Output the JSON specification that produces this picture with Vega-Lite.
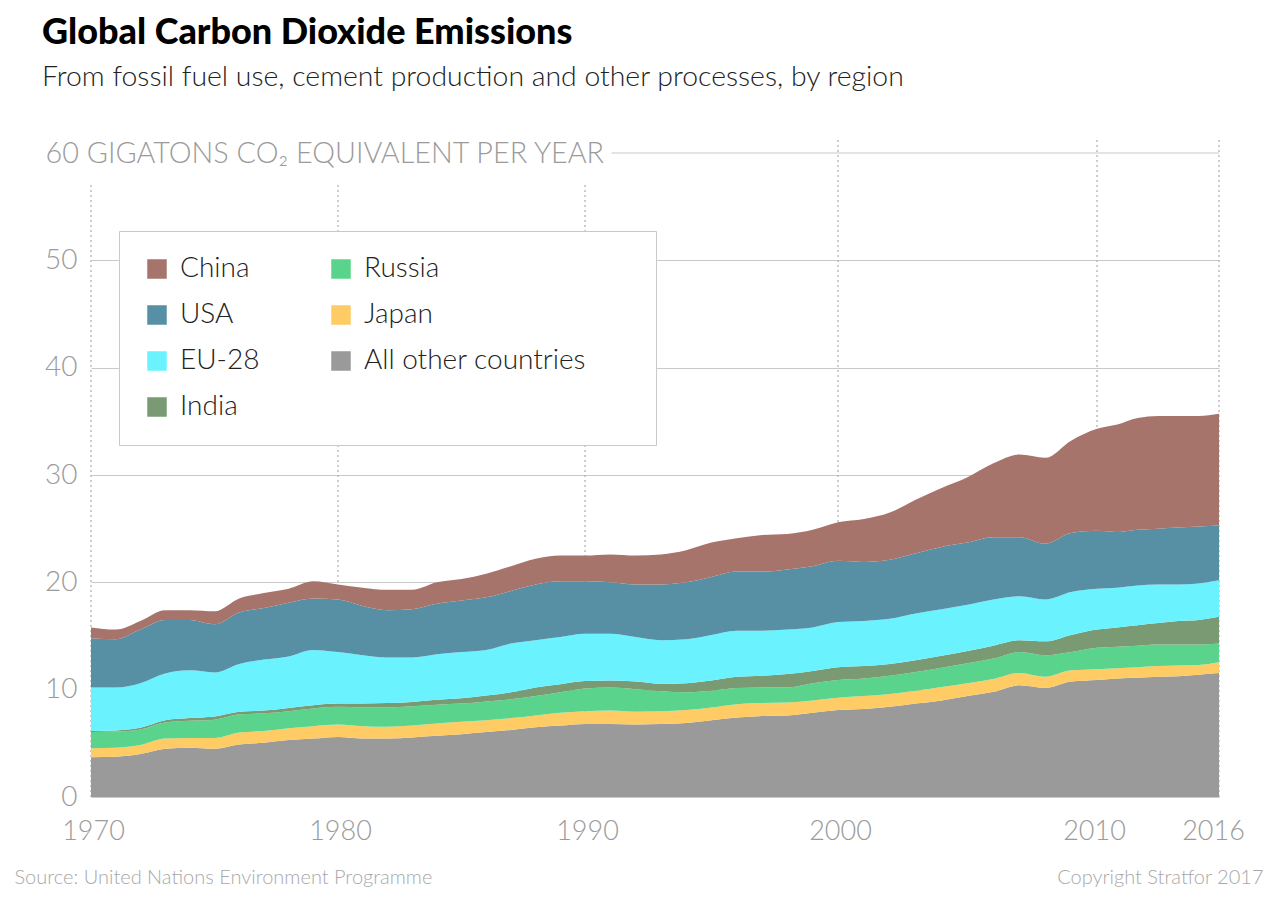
{
  "$schema": "https://vega.github.io/schema/vega-lite/v6.json",
  "width": 1128,
  "height": 644,
  "autosize": {"type": "none"},
  "padding": {"left": 91, "top": 153, "right": 61, "bottom": 111},
  "background": "white",
  "config": {
    "view": {"stroke": null},
    "font": "Lato",
    "axis": {"labelFont": "Lato", "titleFont": "Lato"},
    "legend": {"labelFont": "Lato", "titleFont": "Lato"}
  },
  "title": {
    "text": "Global Carbon Dioxide Emissions",
    "subtitle": "From fossil fuel use, cement production and other processes, by region",
    "anchor": "start",
    "frame": "group",
    "dx": -49,
    "offset": 46,
    "font": "Lato",
    "fontSize": 36,
    "fontWeight": 900,
    "color": "#000000",
    "subtitleFont": "Lato",
    "subtitleFontSize": 28.4,
    "subtitleFontWeight": 300,
    "subtitleColor": "#222222",
    "subtitlePadding": 12
  },
  "data": {
    "values": [
      {"year":1970,"region":"All other countries","gt":3.7},{"year":1970,"region":"Japan","gt":0.85},{"year":1970,"region":"Russia","gt":1.5},{"year":1970,"region":"India","gt":0.1},{"year":1970,"region":"EU-28","gt":4.05},{"year":1970,"region":"USA","gt":4.6},{"year":1970,"region":"China","gt":1.0},
      {"year":1971,"region":"All other countries","gt":3.75},{"year":1971,"region":"Japan","gt":0.85},{"year":1971,"region":"Russia","gt":1.5},{"year":1971,"region":"India","gt":0.1},{"year":1971,"region":"EU-28","gt":4.0},{"year":1971,"region":"USA","gt":4.5},{"year":1971,"region":"China","gt":0.9},
      {"year":1972,"region":"All other countries","gt":4.0},{"year":1972,"region":"Japan","gt":0.85},{"year":1972,"region":"Russia","gt":1.45},{"year":1972,"region":"India","gt":0.15},{"year":1972,"region":"EU-28","gt":4.15},{"year":1972,"region":"USA","gt":5.0},{"year":1972,"region":"China","gt":0.8},
      {"year":1973,"region":"All other countries","gt":4.5},{"year":1973,"region":"Japan","gt":0.95},{"year":1973,"region":"Russia","gt":1.5},{"year":1973,"region":"India","gt":0.2},{"year":1973,"region":"EU-28","gt":4.35},{"year":1973,"region":"USA","gt":5.0},{"year":1973,"region":"China","gt":0.9},
      {"year":1974,"region":"All other countries","gt":4.6},{"year":1974,"region":"Japan","gt":0.9},{"year":1974,"region":"Russia","gt":1.6},{"year":1974,"region":"India","gt":0.25},{"year":1974,"region":"EU-28","gt":4.45},{"year":1974,"region":"USA","gt":4.7},{"year":1974,"region":"China","gt":0.9},
      {"year":1975,"region":"All other countries","gt":4.5},{"year":1975,"region":"Japan","gt":1.0},{"year":1975,"region":"Russia","gt":1.7},{"year":1975,"region":"India","gt":0.3},{"year":1975,"region":"EU-28","gt":4.1},{"year":1975,"region":"USA","gt":4.5},{"year":1975,"region":"China","gt":1.2},
      {"year":1976,"region":"All other countries","gt":4.9},{"year":1976,"region":"Japan","gt":1.1},{"year":1976,"region":"Russia","gt":1.7},{"year":1976,"region":"India","gt":0.25},{"year":1976,"region":"EU-28","gt":4.45},{"year":1976,"region":"USA","gt":4.8},{"year":1976,"region":"China","gt":1.3},
      {"year":1977,"region":"All other countries","gt":5.05},{"year":1977,"region":"Japan","gt":1.1},{"year":1977,"region":"Russia","gt":1.65},{"year":1977,"region":"India","gt":0.25},{"year":1977,"region":"EU-28","gt":4.75},{"year":1977,"region":"USA","gt":4.8},{"year":1977,"region":"China","gt":1.4},
      {"year":1978,"region":"All other countries","gt":5.3},{"year":1978,"region":"Japan","gt":1.1},{"year":1978,"region":"Russia","gt":1.6},{"year":1978,"region":"India","gt":0.3},{"year":1978,"region":"EU-28","gt":4.8},{"year":1978,"region":"USA","gt":5.0},{"year":1978,"region":"China","gt":1.3},
      {"year":1979,"region":"All other countries","gt":5.45},{"year":1979,"region":"Japan","gt":1.15},{"year":1979,"region":"Russia","gt":1.65},{"year":1979,"region":"India","gt":0.3},{"year":1979,"region":"EU-28","gt":5.15},{"year":1979,"region":"USA","gt":4.8},{"year":1979,"region":"China","gt":1.6},
      {"year":1980,"region":"All other countries","gt":5.6},{"year":1980,"region":"Japan","gt":1.15},{"year":1980,"region":"Russia","gt":1.65},{"year":1980,"region":"India","gt":0.3},{"year":1980,"region":"EU-28","gt":4.8},{"year":1980,"region":"USA","gt":4.9},{"year":1980,"region":"China","gt":1.4},
      {"year":1981,"region":"All other countries","gt":5.45},{"year":1981,"region":"Japan","gt":1.15},{"year":1981,"region":"Russia","gt":1.75},{"year":1981,"region":"India","gt":0.35},{"year":1981,"region":"EU-28","gt":4.5},{"year":1981,"region":"USA","gt":4.6},{"year":1981,"region":"China","gt":1.7},
      {"year":1982,"region":"All other countries","gt":5.45},{"year":1982,"region":"Japan","gt":1.1},{"year":1982,"region":"Russia","gt":1.8},{"year":1982,"region":"India","gt":0.4},{"year":1982,"region":"EU-28","gt":4.25},{"year":1982,"region":"USA","gt":4.4},{"year":1982,"region":"China","gt":1.9},
      {"year":1983,"region":"All other countries","gt":5.55},{"year":1983,"region":"Japan","gt":1.1},{"year":1983,"region":"Russia","gt":1.8},{"year":1983,"region":"India","gt":0.4},{"year":1983,"region":"EU-28","gt":4.15},{"year":1983,"region":"USA","gt":4.5},{"year":1983,"region":"China","gt":1.8},
      {"year":1984,"region":"All other countries","gt":5.7},{"year":1984,"region":"Japan","gt":1.15},{"year":1984,"region":"Russia","gt":1.75},{"year":1984,"region":"India","gt":0.45},{"year":1984,"region":"EU-28","gt":4.25},{"year":1984,"region":"USA","gt":4.7},{"year":1984,"region":"China","gt":2.0},
      {"year":1985,"region":"All other countries","gt":5.85},{"year":1985,"region":"Japan","gt":1.15},{"year":1985,"region":"Russia","gt":1.7},{"year":1985,"region":"India","gt":0.5},{"year":1985,"region":"EU-28","gt":4.3},{"year":1985,"region":"USA","gt":4.8},{"year":1985,"region":"China","gt":2.0},
      {"year":1986,"region":"All other countries","gt":6.05},{"year":1986,"region":"Japan","gt":1.1},{"year":1986,"region":"Russia","gt":1.75},{"year":1986,"region":"India","gt":0.55},{"year":1986,"region":"EU-28","gt":4.25},{"year":1986,"region":"USA","gt":4.9},{"year":1986,"region":"China","gt":2.2},
      {"year":1987,"region":"All other countries","gt":6.25},{"year":1987,"region":"Japan","gt":1.1},{"year":1987,"region":"Russia","gt":1.75},{"year":1987,"region":"India","gt":0.65},{"year":1987,"region":"EU-28","gt":4.55},{"year":1987,"region":"USA","gt":4.9},{"year":1987,"region":"China","gt":2.3},
      {"year":1988,"region":"All other countries","gt":6.5},{"year":1988,"region":"Japan","gt":1.1},{"year":1988,"region":"Russia","gt":1.8},{"year":1988,"region":"India","gt":0.8},{"year":1988,"region":"EU-28","gt":4.4},{"year":1988,"region":"USA","gt":5.2},{"year":1988,"region":"China","gt":2.4},
      {"year":1989,"region":"All other countries","gt":6.65},{"year":1989,"region":"Japan","gt":1.2},{"year":1989,"region":"Russia","gt":1.9},{"year":1989,"region":"India","gt":0.75},{"year":1989,"region":"EU-28","gt":4.4},{"year":1989,"region":"USA","gt":5.2},{"year":1989,"region":"China","gt":2.4},
      {"year":1990,"region":"All other countries","gt":6.8},{"year":1990,"region":"Japan","gt":1.2},{"year":1990,"region":"Russia","gt":2.1},{"year":1990,"region":"India","gt":0.7},{"year":1990,"region":"EU-28","gt":4.4},{"year":1990,"region":"USA","gt":4.9},{"year":1990,"region":"China","gt":2.4},
      {"year":1991,"region":"All other countries","gt":6.8},{"year":1991,"region":"Japan","gt":1.25},{"year":1991,"region":"Russia","gt":2.15},{"year":1991,"region":"India","gt":0.65},{"year":1991,"region":"EU-28","gt":4.35},{"year":1991,"region":"USA","gt":4.8},{"year":1991,"region":"China","gt":2.6},
      {"year":1992,"region":"All other countries","gt":6.75},{"year":1992,"region":"Japan","gt":1.2},{"year":1992,"region":"Russia","gt":2.1},{"year":1992,"region":"India","gt":0.7},{"year":1992,"region":"EU-28","gt":4.15},{"year":1992,"region":"USA","gt":4.9},{"year":1992,"region":"China","gt":2.7},
      {"year":1993,"region":"All other countries","gt":6.8},{"year":1993,"region":"Japan","gt":1.2},{"year":1993,"region":"Russia","gt":1.85},{"year":1993,"region":"India","gt":0.7},{"year":1993,"region":"EU-28","gt":4.05},{"year":1993,"region":"USA","gt":5.2},{"year":1993,"region":"China","gt":2.8},
      {"year":1994,"region":"All other countries","gt":6.9},{"year":1994,"region":"Japan","gt":1.2},{"year":1994,"region":"Russia","gt":1.65},{"year":1994,"region":"India","gt":0.85},{"year":1994,"region":"EU-28","gt":4.1},{"year":1994,"region":"USA","gt":5.3},{"year":1994,"region":"China","gt":3.0},
      {"year":1995,"region":"All other countries","gt":7.15},{"year":1995,"region":"Japan","gt":1.2},{"year":1995,"region":"Russia","gt":1.55},{"year":1995,"region":"India","gt":0.95},{"year":1995,"region":"EU-28","gt":4.25},{"year":1995,"region":"USA","gt":5.4},{"year":1995,"region":"China","gt":3.2},
      {"year":1996,"region":"All other countries","gt":7.4},{"year":1996,"region":"Japan","gt":1.25},{"year":1996,"region":"Russia","gt":1.5},{"year":1996,"region":"India","gt":1.05},{"year":1996,"region":"EU-28","gt":4.3},{"year":1996,"region":"USA","gt":5.5},{"year":1996,"region":"China","gt":3.1},
      {"year":1997,"region":"All other countries","gt":7.55},{"year":1997,"region":"Japan","gt":1.2},{"year":1997,"region":"Russia","gt":1.45},{"year":1997,"region":"India","gt":1.1},{"year":1997,"region":"EU-28","gt":4.2},{"year":1997,"region":"USA","gt":5.5},{"year":1997,"region":"China","gt":3.4},
      {"year":1998,"region":"All other countries","gt":7.6},{"year":1998,"region":"Japan","gt":1.2},{"year":1998,"region":"Russia","gt":1.4},{"year":1998,"region":"India","gt":1.25},{"year":1998,"region":"EU-28","gt":4.15},{"year":1998,"region":"USA","gt":5.6},{"year":1998,"region":"China","gt":3.3},
      {"year":1999,"region":"All other countries","gt":7.85},{"year":1999,"region":"Japan","gt":1.15},{"year":1999,"region":"Russia","gt":1.6},{"year":1999,"region":"India","gt":1.15},{"year":1999,"region":"EU-28","gt":4.05},{"year":1999,"region":"USA","gt":5.7},{"year":1999,"region":"China","gt":3.4},
      {"year":2000,"region":"All other countries","gt":8.1},{"year":2000,"region":"Japan","gt":1.15},{"year":2000,"region":"Russia","gt":1.65},{"year":2000,"region":"India","gt":1.2},{"year":2000,"region":"EU-28","gt":4.2},{"year":2000,"region":"USA","gt":5.7},{"year":2000,"region":"China","gt":3.6},
      {"year":2001,"region":"All other countries","gt":8.2},{"year":2001,"region":"Japan","gt":1.2},{"year":2001,"region":"Russia","gt":1.65},{"year":2001,"region":"India","gt":1.15},{"year":2001,"region":"EU-28","gt":4.2},{"year":2001,"region":"USA","gt":5.5},{"year":2001,"region":"China","gt":4.0},
      {"year":2002,"region":"All other countries","gt":8.4},{"year":2002,"region":"Japan","gt":1.2},{"year":2002,"region":"Russia","gt":1.7},{"year":2002,"region":"India","gt":1.1},{"year":2002,"region":"EU-28","gt":4.2},{"year":2002,"region":"USA","gt":5.5},{"year":2002,"region":"China","gt":4.4},
      {"year":2003,"region":"All other countries","gt":8.7},{"year":2003,"region":"Japan","gt":1.2},{"year":2003,"region":"Russia","gt":1.75},{"year":2003,"region":"India","gt":1.1},{"year":2003,"region":"EU-28","gt":4.35},{"year":2003,"region":"USA","gt":5.6},{"year":2003,"region":"China","gt":5.0},
      {"year":2004,"region":"All other countries","gt":9.0},{"year":2004,"region":"Japan","gt":1.25},{"year":2004,"region":"Russia","gt":1.8},{"year":2004,"region":"India","gt":1.1},{"year":2004,"region":"EU-28","gt":4.35},{"year":2004,"region":"USA","gt":5.8},{"year":2004,"region":"China","gt":5.5},
      {"year":2005,"region":"All other countries","gt":9.4},{"year":2005,"region":"Japan","gt":1.2},{"year":2005,"region":"Russia","gt":1.85},{"year":2005,"region":"India","gt":1.15},{"year":2005,"region":"EU-28","gt":4.3},{"year":2005,"region":"USA","gt":5.8},{"year":2005,"region":"China","gt":6.1},
      {"year":2006,"region":"All other countries","gt":9.8},{"year":2006,"region":"Japan","gt":1.2},{"year":2006,"region":"Russia","gt":1.9},{"year":2006,"region":"India","gt":1.2},{"year":2006,"region":"EU-28","gt":4.3},{"year":2006,"region":"USA","gt":5.8},{"year":2006,"region":"China","gt":6.9},
      {"year":2007,"region":"All other countries","gt":10.4},{"year":2007,"region":"Japan","gt":1.15},{"year":2007,"region":"Russia","gt":1.95},{"year":2007,"region":"India","gt":1.1},{"year":2007,"region":"EU-28","gt":4.1},{"year":2007,"region":"USA","gt":5.5},{"year":2007,"region":"China","gt":7.7},
      {"year":2008,"region":"All other countries","gt":10.15},{"year":2008,"region":"Japan","gt":1.05},{"year":2008,"region":"Russia","gt":2.0},{"year":2008,"region":"India","gt":1.3},{"year":2008,"region":"EU-28","gt":3.9},{"year":2008,"region":"USA","gt":5.2},{"year":2008,"region":"China","gt":8.0},
      {"year":2009,"region":"All other countries","gt":10.75},{"year":2009,"region":"Japan","gt":1.05},{"year":2009,"region":"Russia","gt":1.7},{"year":2009,"region":"India","gt":1.6},{"year":2009,"region":"EU-28","gt":4.0},{"year":2009,"region":"USA","gt":5.5},{"year":2009,"region":"China","gt":8.6},
      {"year":2010,"region":"All other countries","gt":10.9},{"year":2010,"region":"Japan","gt":1.0},{"year":2010,"region":"Russia","gt":2.0},{"year":2010,"region":"India","gt":1.7},{"year":2010,"region":"EU-28","gt":3.8},{"year":2010,"region":"USA","gt":5.4},{"year":2010,"region":"China","gt":9.5},
      {"year":2011,"region":"All other countries","gt":11.05},{"year":2011,"region":"Japan","gt":0.95},{"year":2011,"region":"Russia","gt":2.0},{"year":2011,"region":"India","gt":1.8},{"year":2011,"region":"EU-28","gt":3.7},{"year":2011,"region":"USA","gt":5.2},{"year":2011,"region":"China","gt":10.0},
      {"year":2012,"region":"All other countries","gt":11.1},{"year":2012,"region":"Japan","gt":1.0},{"year":2012,"region":"Russia","gt":2.0},{"year":2012,"region":"India","gt":1.9},{"year":2012,"region":"EU-28","gt":3.7},{"year":2012,"region":"USA","gt":5.2},{"year":2012,"region":"China","gt":10.4},
      {"year":2013,"region":"All other countries","gt":11.2},{"year":2013,"region":"Japan","gt":1.0},{"year":2013,"region":"Russia","gt":2.0},{"year":2013,"region":"India","gt":2.0},{"year":2013,"region":"EU-28","gt":3.6},{"year":2013,"region":"USA","gt":5.2},{"year":2013,"region":"China","gt":10.5},
      {"year":2014,"region":"All other countries","gt":11.25},{"year":2014,"region":"Japan","gt":1.0},{"year":2014,"region":"Russia","gt":1.95},{"year":2014,"region":"India","gt":2.2},{"year":2014,"region":"EU-28","gt":3.4},{"year":2014,"region":"USA","gt":5.3},{"year":2014,"region":"China","gt":10.4},
      {"year":2015,"region":"All other countries","gt":11.4},{"year":2015,"region":"Japan","gt":0.9},{"year":2015,"region":"Russia","gt":1.9},{"year":2015,"region":"India","gt":2.3},{"year":2015,"region":"EU-28","gt":3.4},{"year":2015,"region":"USA","gt":5.3},{"year":2015,"region":"China","gt":10.3},
      {"year":2016,"region":"All other countries","gt":11.55},{"year":2016,"region":"Japan","gt":1.0},{"year":2016,"region":"Russia","gt":1.75},{"year":2016,"region":"India","gt":2.5},{"year":2016,"region":"EU-28","gt":3.4},{"year":2016,"region":"USA","gt":5.1},{"year":2016,"region":"China","gt":10.4}
    ]
  },
  "layer": [
    {
      "data": {"values": [{"year": 1970}, {"year": 1980}, {"year": 1990}]},
      "mark": {"type": "rule", "color": "#b3b3b3", "strokeDash": [2, 3], "strokeWidth": 1.3},
      "encoding": {
        "x": {"field": "year", "type": "quantitative", "scale": {"domain": [1970, 1980, 1990, 2000, 2010, 2016], "range": [0, 247, 494, 747, 1006, 1128], "nice": false, "zero": false}},
        "y": {"datum": 0, "scale": {"domain": [0, 60], "nice": false}, "axis": null},
        "y2": {"datum": 57.2}
      }
    },
    {
      "data": {"values": [{"year": 2000}, {"year": 2010}, {"year": 2016}]},
      "mark": {"type": "rule", "color": "#b3b3b3", "strokeDash": [2, 3], "strokeWidth": 1.3},
      "encoding": {
        "x": {"field": "year", "type": "quantitative", "scale": {"domain": [1970, 1980, 1990, 2000, 2010, 2016], "range": [0, 247, 494, 747, 1006, 1128], "nice": false, "zero": false}},
        "y": {"datum": 0, "scale": {"domain": [0, 60], "nice": false}, "axis": null},
        "y2": {"datum": 61.3}
      }
    },
    {
      "data": {"values": [{}]},
      "mark": {"type": "rule", "color": "#c9c9c9", "strokeWidth": 1},
      "encoding": {
        "x": {"datum": 1991.05, "scale": {"domain": [1970, 1980, 1990, 2000, 2010, 2016], "range": [0, 247, 494, 747, 1006, 1128], "nice": false, "zero": false}},
        "x2": {"datum": 2016},
        "y": {
          "datum": 60,
          "scale": {"domain": [0, 60], "nice": false},
          "axis": {
            "orient": "right",
            "grid": false, "domain": false, "ticks": false, "labels": false,
            "title": "Copyright Stratfor 2017",
            "titleAngle": 0, "titleAlign": "right", "titleBaseline": "middle",
            "titleX": 44, "titleY": 724,
            "titleFontSize": 20, "titleFontWeight": 300, "titleColor": "#a8a8a8"
          }
        }
      }
    },
    {
      "mark": {"type": "area", "interpolate": "monotone", "opacity": 1},
      "transform": [
        {"calculate": "indexof(['All other countries', 'Japan', 'Russia', 'India', 'EU-28', 'USA', 'China'], datum.region)", "as": "stackRank"}
      ],
      "encoding": {
        "x": {
          "field": "year", "type": "quantitative",
          "scale": {"domain": [1970, 1980, 1990, 2000, 2010, 2016], "range": [0, 247, 494, 747, 1006, 1128], "nice": false, "zero": false},
          "axis": {
            "values": [1970, 1980, 1990, 2000, 2010, 2016],
            "format": "d",
            "grid": false, "domain": false, "ticks": false,
            "labelFontSize": 27, "labelFontWeight": 300, "labelColor": "#9b9b9b",
            "labelPadding": 21, "labelFlush": false, "labelOverlap": false,
            "labelOffset": {"condition": [{"test": "datum.value == 2016", "value": -6}, {"test": "datum.value == 2010", "value": -3}], "value": 2},
            "title": "Source: United Nations Environment Programme",
            "titleX": -77, "titleY": 80, "titleAlign": "left", "titleBaseline": "middle",
            "titleFontSize": 20, "titleFontWeight": 300, "titleColor": "#a8a8a8"
          }
        },
        "y": {
          "field": "gt", "type": "quantitative", "stack": "zero",
          "scale": {"domain": [0, 60], "nice": false},
          "axis": {
            "orient": "left",
            "values": [0, 10, 20, 30, 40, 50],
            "grid": true, "gridColor": "#c9c9c9", "gridWidth": 1,
            "domain": false, "ticks": false,
            "labelFontSize": 28, "labelFontWeight": 300, "labelColor": "#9b9b9b", "labelPadding": 14,
            "title": "60 GIGATONS CO₂ EQUIVALENT PER YEAR",
            "titleAngle": 0, "titleAlign": "left", "titleBaseline": "middle",
            "titleX": -46, "titleY": 0,
            "titleFontSize": 28.8, "titleFontWeight": 300, "titleColor": "#9b9b9b"
          }
        },
        "color": {
          "field": "region", "type": "nominal",
          "scale": {
            "domain": ["China", "USA", "EU-28", "India", "Russia", "Japan", "All other countries"],
            "range": ["#a7746c", "#5790a4", "#6af2fe", "#799a73", "#5ad48c", "#fecb64", "#9a9a9a"]
          },
          "legend": {
            "title": "\u2003",
            "titleOrient": "right",
            "titleFontSize": 20,
            "titlePadding": 46,
            "orient": "none", "legendX": 28, "legendY": 78,
            "columns": 2,
            "symbolType": "square", "symbolSize": 380, "symbolStrokeWidth": 0, "symbolOpacity": 1,
            "labelFontSize": 28, "labelFontWeight": 300, "labelColor": "#222222", "labelOffset": 9, "labelLimit": 400,
            "rowPadding": 18, "columnPadding": 67,
            "padding": 24, "fillColor": "#ffffff", "strokeColor": "#c9c9c9"
          }
        },
        "order": {"field": "stackRank", "type": "quantitative"}
      }
    }
  ],
  "resolve": {"axis": {"y": "independent"}}
}
